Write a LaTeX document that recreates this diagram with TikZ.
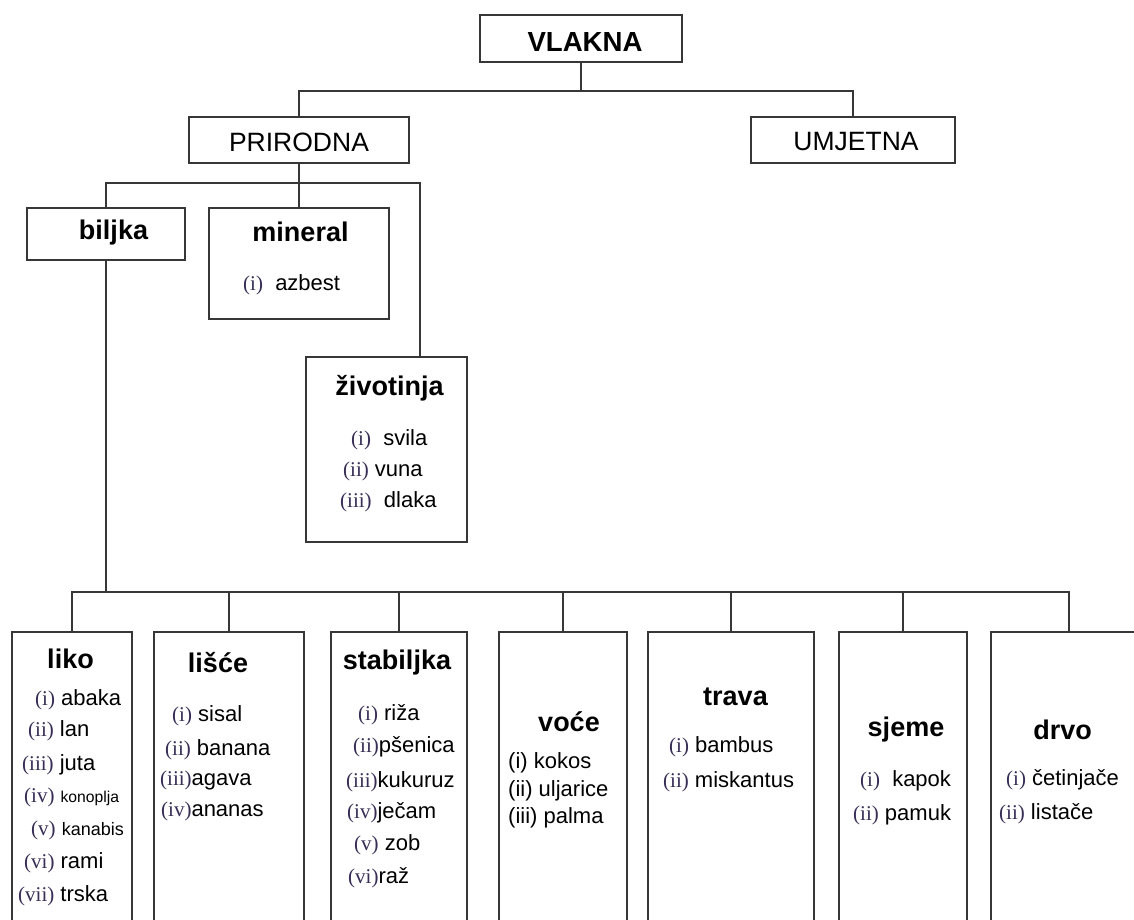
\documentclass[tikz,border=0pt]{standalone}
\usepackage{fontspec}
\setmainfont{Liberation Sans}
\newfontfamily\serf{Liberation Serif}
\definecolor{linecol}{RGB}{55,55,55}
\definecolor{numcol}{RGB}{55,45,85}
\newcommand\nm[1]{{\serf\fontsize{21}{24}\selectfont\color{numcol}#1}}
\tikzset{
  box/.style={draw=linecol, line width=2pt, rectangle, inner sep=0pt, outer sep=0pt, anchor=north west},
  conn/.style={draw=linecol, line width=2pt},
  ttl/.style={font=\bfseries\fontsize{27}{30}\selectfont, inner sep=0pt, anchor=center},
  captxt/.style={font=\fontsize{26.5}{30}\selectfont, inner sep=0pt, anchor=center},
  itm/.style={font=\fontsize{22}{24}\selectfont, inner sep=0pt, anchor=west},
}
\begin{document}
\begin{tikzpicture}[x=1pt, y=-1pt]
\useasboundingbox (0,0) rectangle (1134,920);
\fill[white] (0,0) rectangle (1134,920);
\clip (0,0) rectangle (1134,920);

% top level boxes
\node[box, minimum width=202, minimum height=47] (vlakna) at (480,15) {};
\node[box, minimum width=220, minimum height=46] (prirodna) at (189,117) {};
\node[box, minimum width=204, minimum height=46] (umjetna) at (751,117) {};
\node[box, minimum width=158, minimum height=52] (biljka) at (27,208) {};
\node[box, minimum width=180, minimum height=111] (mineral) at (209,208) {};
\node[box, minimum width=161, minimum height=185] (zivotinja) at (306,357) {};
\coordinate (zivin) at (420,357);

% bottom boxes
\node[box, minimum width=120, minimum height=310] (liko) at (12,632) {};
\node[box, minimum width=150, minimum height=310] (lisce) at (154,632) {};
\node[box, minimum width=136, minimum height=310] (stabiljka) at (331,632) {};
\node[box, minimum width=128, minimum height=310] (voce) at (499,632) {};
\node[box, minimum width=166, minimum height=310] (trava) at (648,632) {};
\node[box, minimum width=128, minimum height=310] (sjeme) at (839,632) {};
\node[box, minimum width=156, minimum height=310] (drvo) at (991,632) {};

% connectors
\draw[conn] (vlakna.south) -- ++(0,29) -| (prirodna.north);
\draw[conn] (vlakna.south) -- ++(0,29) -| (umjetna.north);
\draw[conn] (prirodna.south) -- ++(0,20) -| (biljka.north);
\draw[conn] (prirodna.south) -- (mineral.north);
\draw[conn] (prirodna.south) -- ++(0,20) -| (zivin);
\foreach \b in {liko,lisce,stabiljka,voce,trava,sjeme,drvo}{
  \draw[conn] (biljka.south) -- ++(0,332) -| (\b.north);
}

% top texts
\node[font=\bfseries\fontsize{27.6}{30}\selectfont, inner sep=0pt] (tvlakna) at (585,42) {VLAKNA};
\node[captxt] (tprirodna) at (299,142) {PRIRODNA};
\node[captxt] (tumjetna) at (856,142) {UMJETNA};
\node[ttl] (tbiljka) at (113.5,233) {biljka};
\node[ttl] (tmineral) at (300.5,232) {mineral};
\node[itm] (azbest) at (243,285) {\nm{(i)}\ \ azbest};
\node[ttl] (tzivotinja) at (389.5,388) {životinja};
\node[itm] (svila) at (351,440) {\nm{(i)}\ \ svila};
\node[itm] (vuna) at (343,471) {\nm{(ii)} vuna};
\node[itm] (dlaka) at (340,502) {\nm{(iii)}\ \ dlaka};

% liko
\node[ttl] (tliko) at (70.5,659) {liko};
\node[itm] (l1) at (35,700) {\nm{(i)} abaka};
\node[itm] (l2) at (28,731) {\nm{(ii)} lan};
\node[itm] (l3) at (22,765) {\nm{(iii)} juta};
\node[itm] (l4) at (24,797) {\nm{(iv)} {\fontsize{15.7}{18}\selectfont konoplja}};
\node[itm] (l5) at (31,830) {\nm{(v)} {\fontsize{18}{20}\selectfont kanabis}};
\node[itm] (l6) at (24,863) {\nm{(vi)} rami};
\node[itm] (l7) at (18,896) {\nm{(vii)} trska};

% lisce
\node[ttl] (tlisce) at (218,663) {lišće};
\node[itm] (s1) at (172,716) {\nm{(i)} sisal};
\node[itm] (s2) at (165,750) {\nm{(ii)} banana};
\node[itm] (s3) at (160,780) {\nm{(iii)}agava};
\node[itm] (s4) at (161,811) {\nm{(iv)}ananas};

% stabiljka
\node[ttl] (tstabiljka) at (397,663) {stabiljka};
\node[itm] (b1) at (358,715) {\nm{(i)} riža};
\node[itm] (b2) at (353,747) {\nm{(ii)}pšenica};
\node[itm] (b3) at (346,782) {\nm{(iii)}kukuruz};
\node[itm] (b4) at (347,813) {\nm{(iv)}ječam};
\node[itm] (b5) at (354,845) {\nm{(v)} zob};
\node[itm] (b6) at (348,878) {\nm{(vi)}raž};

% voce
\node[ttl] (tvoce) at (569,722) {voće};
\node[itm] (v1) at (508,763) {(i) kokos};
\node[itm] (v2) at (508,791) {(ii) uljarice};
\node[itm] (v3) at (508,818) {(iii) palma};

% trava
\node[ttl] (ttrava) at (735.5,697) {trava};
\node[itm] (t1) at (669,747) {\nm{(i)} bambus};
\node[itm] (t2) at (663,782) {\nm{(ii)} miskantus};

% sjeme
\node[ttl] (tsjeme) at (906,730) {sjeme};
\node[itm] (j1) at (860,781) {\nm{(i)}\ \ kapok};
\node[itm] (j2) at (853,815) {\nm{(ii)} pamuk};

% drvo
\node[ttl] (tdrvo) at (1062.5,730) {drvo};
\node[itm] (d1) at (1006,780) {\nm{(i)} četinjače};
\node[itm] (d2) at (999,814) {\nm{(ii)} listače};
\end{tikzpicture}
\end{document}
